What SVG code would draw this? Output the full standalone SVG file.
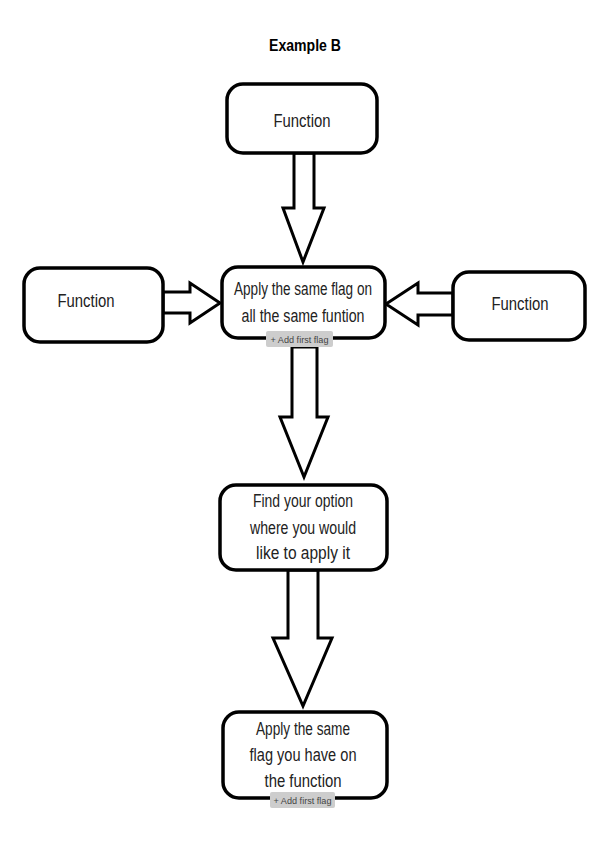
<svg xmlns="http://www.w3.org/2000/svg" width="604" height="844" viewBox="0 0 604 844">
<style>
.box{fill:#fff;stroke:#000;stroke-width:3.5}
.arr{fill:#fff;stroke:#000;stroke-width:3;stroke-linejoin:miter}
.t{font-family:"Liberation Sans",Arial,sans-serif;font-size:17.5px;fill:#222;text-anchor:middle}
.title{font-family:"Liberation Sans",Arial,sans-serif;font-size:16px;font-weight:bold;fill:#000;text-anchor:middle}
.badge{fill:#cdcdcd;stroke:none}
.bt{font-family:"Liberation Sans",Arial,sans-serif;font-size:9.5px;fill:#444;text-anchor:middle}
</style>
<rect width="604" height="844" fill="#fff"/>
<text class="title" x="305" y="51" textLength="72" lengthAdjust="spacingAndGlyphs">Example B</text>
<g id="connectors">
<polygon class="arr" points="294,153 314,153 314,208 324,208 303,262 283,208 294,208"/>
<polygon class="arr" points="163,292 190,292 190,283 220,303 190,323 190,313 163,313"/>
<polygon class="arr" points="453,293 418,293 418,283 386,304 418,325 418,315 453,315"/>
<polygon class="arr" points="292,347 317,347 317,417 328,417 304,477 280,417 292,417"/>
<polygon class="arr" points="288,570 318,570 318,638 332,638 303,706 273,638 288,638"/>
</g>
<g id="node-top">
<rect class="box" x="227" y="84" width="150" height="69" rx="16"/>
<text class="t" x="302" y="127" textLength="57" lengthAdjust="spacingAndGlyphs">Function</text>
</g>
<g id="node-left">
<rect class="box" x="24" y="268" width="139" height="74" rx="16"/>
<text class="t" x="86" y="307" textLength="57" lengthAdjust="spacingAndGlyphs">Function</text>
</g>
<g id="node-right">
<rect class="box" x="453" y="272" width="132" height="68" rx="16"/>
<text class="t" x="520" y="310" textLength="57" lengthAdjust="spacingAndGlyphs">Function</text>
</g>
<g id="node-center">
<rect class="box" x="222" y="267" width="163" height="71" rx="16"/>
<text class="t" x="303" y="295" textLength="138" lengthAdjust="spacingAndGlyphs">Apply the same flag on</text>
<text class="t" x="303" y="322" textLength="123" lengthAdjust="spacingAndGlyphs">all the same funtion</text>
<rect class="badge" x="266" y="331" width="67" height="16" rx="2"/>
<text class="bt" x="299.5" y="342.5" textLength="58" lengthAdjust="spacingAndGlyphs">+ Add first flag</text>
</g>
<g id="node-find">
<rect class="box" x="220" y="485" width="167" height="85" rx="16"/>
<text class="t" x="303" y="507" textLength="100" lengthAdjust="spacingAndGlyphs">Find your option</text>
<text class="t" x="303" y="534" textLength="106" lengthAdjust="spacingAndGlyphs">where you would</text>
<text class="t" x="303" y="559" textLength="94" lengthAdjust="spacingAndGlyphs">like to apply it</text>
</g>
<g id="node-apply">
<rect class="box" x="223" y="712" width="164" height="86" rx="16"/>
<text class="t" x="303" y="735" textLength="94" lengthAdjust="spacingAndGlyphs">Apply the same</text>
<text class="t" x="303" y="761" textLength="107" lengthAdjust="spacingAndGlyphs">flag you have on</text>
<text class="t" x="303" y="787" textLength="77" lengthAdjust="spacingAndGlyphs">the function</text>
<rect class="badge" x="270" y="792" width="65" height="16" rx="2"/>
<text class="bt" x="302.5" y="803.5" textLength="58" lengthAdjust="spacingAndGlyphs">+ Add first flag</text>
</g>
</svg>
